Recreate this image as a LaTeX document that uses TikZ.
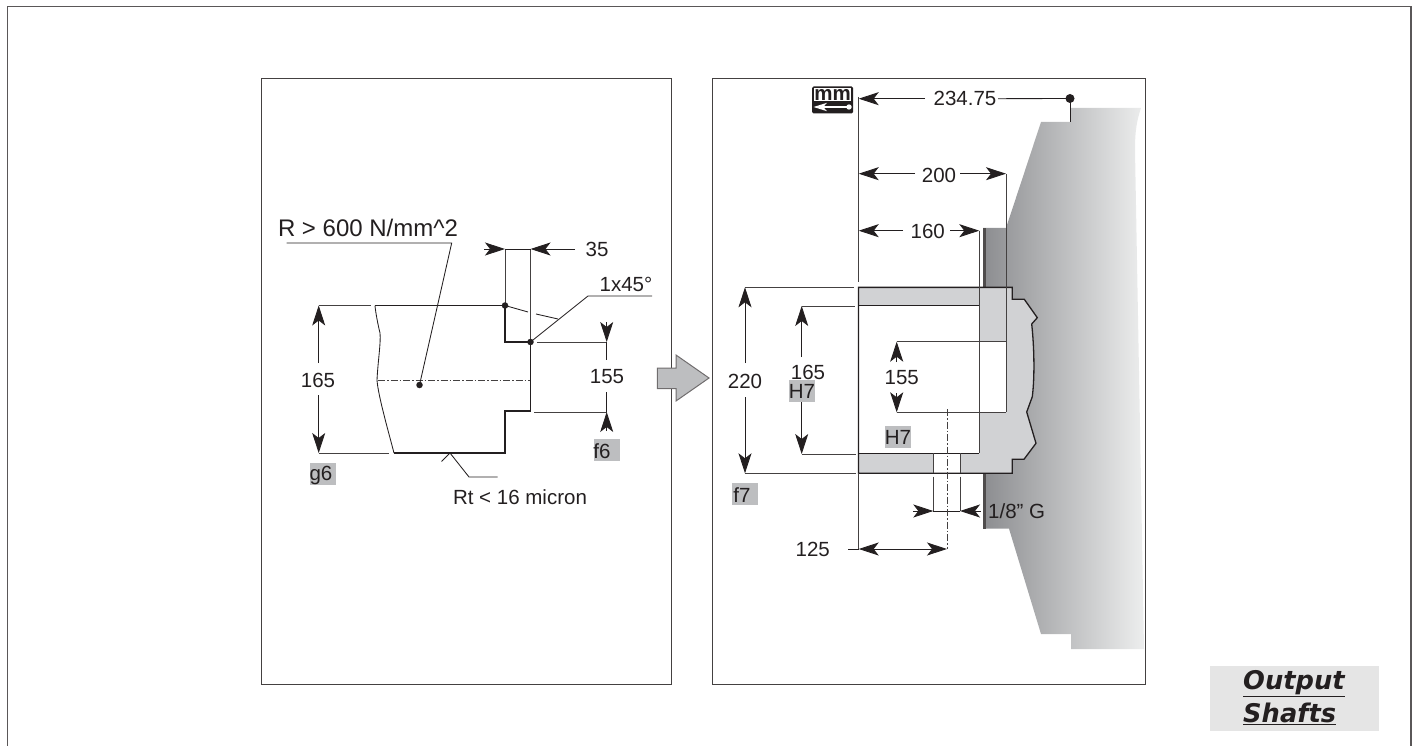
\documentclass[tikz,border=0pt]{standalone}
\usepackage{fontspec}
\setmainfont{Liberation Sans}
\newfontfamily\titlefont{DejaVu Sans}
\usetikzlibrary{arrows.meta}
\definecolor{ink}{HTML}{231F20}
\definecolor{tag}{HTML}{BDBEC0}
\definecolor{section}{HTML}{D1D2D4}
\definecolor{bodyl}{HTML}{8C8D90}
\definecolor{bodyr}{HTML}{EDEEEE}
\tikzset{
  frameline/.style={draw=ink!85,line width=0.85pt},
  thin line/.style={draw=ink,line width=0.85pt},
  dimline/.style={draw=ink,line width=0.85pt},
  extline/.style={draw=ink!85,line width=1pt},
  profile/.style={draw=ink,line width=1.3pt},
  dimtip/.style={-{Stealth[length=20pt,width=13pt,inset=5pt]}},
  lab/.style={inner sep=0pt,text=ink,font=\fontsize{20.5}{24}\selectfont},
  bigl/.style={inner sep=0pt,text=ink,font=\fontsize{24}{28}\selectfont},
  dotmark/.style={circle,fill=ink,inner sep=0pt,minimum size=6.5pt},
  bigdot/.style={circle,fill=ink,inner sep=0pt,minimum size=9pt},
  centerline/.style={draw=ink!85,line width=0.7pt,dash pattern=on 7pt off 2pt on 1.5pt off 2pt},
  titletext/.style={inner sep=0pt,anchor=base west,text=ink,font=\titlefont\bfseries\itshape\fontsize{25.7}{30}\selectfont},
}
\begin{document}
\begin{tikzpicture}[x=1pt,y=-1pt]
\useasboundingbox (0,0) rectangle (1417,746);
% outer frame
\draw[draw=ink!75,line width=1.3pt] (7.5,746) -- (7.5,6.5) -- (1411,6.5) -- (1411,746);
% panels
\draw[frameline] (261,78) rectangle (671,684);
\draw[frameline] (712,78) rectangle (1145,684);

% ---------- left drawing
\fill[tag] (310,463) rectangle (336,485);
\fill[tag] (594,439) rectangle (620,461);
\draw[extline] (505,249) -- (505,305.5);
\draw[extline] (530.5,249) -- (530.5,342);
\draw[profile] (375,305.6) -- (505,305.6) -- (505,342) -- (530.5,342) -- (530.5,411) -- (505,411) -- (505,453) -- (394,453);
\draw[thin line] (375,305.6) .. controls (375.5,312) and (378,325) .. (380,333) .. controls (381,343) and (378,360) .. (377,380) .. controls (378,395) and (388,430) .. (394,453);
\draw[centerline] (378,380) -- (530,380);
\node[dotmark] (dota) at (505,305.5) {};
\node[dotmark] (dotb) at (530.5,342) {};
\node[dotmark] (dotc) at (419.5,385) {};
\coordinate (rs) at (286.5,243);
\coordinate (rk) at (451.7,243);
\draw[thin line] (rs) -- (rk) -- (dotc.center);
\node[bigl] (rlabel) at (368,227.5) {R > 600 N/mm\textasciicircum 2};
% 35
\coordinate (a35l) at (484,249); \coordinate (a35lt) at (505,249);
\coordinate (a35r) at (575,249); \coordinate (a35rt) at (530.5,249);
\draw[dimline,dimtip] (a35l) -- (a35lt);
\draw[dimline,dimtip] (a35r) -- (a35rt);
\draw[dimline] (a35lt) -- (a35rt);
\node[lab] (l35) at (597,249) {35};
% chamfer
\coordinate (c1) at (588,296); \coordinate (c2) at (652,296);
\draw[thin line] (dotb.center) -- (c1) -- (c2);
\node[lab] (chamfer) at (626,284) {1x45°};
\coordinate (c3) at (528,312); \coordinate (c4) at (536,314); \coordinate (c5) at (558,319);
\draw[thin line] (dota.center) -- (c3) (c4) -- (c5);
% 165
\draw[extline] (318.7,305.5) -- (371,305.5);
\draw[extline] (318.7,453) -- (389,453);
\coordinate (u1) at (318.7,363); \coordinate (u2) at (318.7,305.5);
\coordinate (d1) at (318.7,395); \coordinate (d2) at (318.7,453);
\draw[dimline,dimtip] (u1) -- (u2);
\draw[dimline,dimtip] (d1) -- (d2);
\node[lab] (l165a) at (318,380) {165};
\node[lab] (g6) at (321,475) {g6};
% 155
\draw[extline] (537,342) -- (606.7,342);
\draw[extline] (534,412) -- (606.7,412);
\coordinate (p1) at (606.7,322); \coordinate (p2) at (606.7,342);
\coordinate (q1) at (606.7,431); \coordinate (q2) at (606.7,412);
\draw[dimline,dimtip] (p1) -- (p2);
\draw[dimline] (p2) -- (606.7,360);
\draw[dimline,dimtip] (q1) -- (q2);
\draw[dimline] (q2) -- (606.7,392);
\node[lab] (l155a) at (607,377) {155};
\node[lab] (f6) at (602,451) {f6};
% roughness
\coordinate (t1) at (441.5,461.5); \coordinate (t2) at (450,453);
\coordinate (t3) at (469,477); \coordinate (t4) at (497.5,477);
\draw[thin line] (t1) -- (t2) -- (t3) -- (t4);
\node[lab] (rt) at (520,497) {Rt < 16 micron};

% block arrow
\draw[fill=tag,draw=ink!65,line width=1pt] (657.3,368) -- (676,368) -- (676,355) -- (709,378) -- (676,401) -- (676,388.5) -- (657.3,388.5) -- cycle;

% ---------- right drawing
% body
\path[left color=bodyl,right color=bodyr] (983,228) -- (1006,228) -- (1041,122) -- (1070,122) -- (1070,108) -- (1141,108) .. controls (1137,120) and (1135,130) .. (1135,150) -- (1144,649) -- (1071,649) -- (1071,634) -- (1041,634) -- (1009,528.7) -- (983,528.7) -- cycle;
\fill[ink!80] (983,228) rectangle (985.5,528.7);
% section
\path[fill=section] (858.5,287.4) -- (1012.3,287.4) -- (1012.3,299.3) -- (1024.3,299.3) -- (1037.3,317.7) -- (1031.7,324) .. controls (1034,345) and (1035,375) .. (1032.3,396.7) -- (1026.7,412) -- (1036,443.3) -- (1024,459.3) -- (1012.3,459.3) -- (1012.3,473.3) -- (858.5,473.3) -- cycle;
\fill[white] (858.5,305.7) rectangle (979.3,453.3);
\fill[white] (979.3,341.7) rectangle (1006,412.3);
\fill[white] (933.3,453.3) rectangle (960,473.3);
% outline
\draw[profile] (858.5,473.3) -- (858.5,287.4) -- (1012.3,287.4) -- (1012.3,299.3) -- (1024.3,299.3) -- (1037.3,317.7) -- (1031.7,324) .. controls (1034,345) and (1035,375) .. (1032.3,396.7) -- (1026.7,412) -- (1036,443.3) -- (1024,459.3) -- (1012.3,459.3) -- (1012.3,473.3) -- cycle;
\draw[thin line] (858.5,305.7) -- (979.3,305.7) (858.5,453.3) -- (979.3,453.3);
\draw[extline] (979.3,230.7) -- (979.3,453.3);
\draw[extline] (1006,174) -- (1006,412.3);
\draw[extline] (896.7,341.7) -- (1006,341.7);
\draw[extline] (896.7,412.3) -- (1006,412.3);
\draw[extline] (933.3,453.3) -- (933.3,473.3) (960,453.3) -- (960,473.3);
\draw[extline] (858.7,97) -- (858.7,282);
\draw[extline] (858.7,473.3) -- (858.7,549);
% tags
\fill[tag] (789,380) rectangle (815,402);
\fill[tag] (885,425.7) rectangle (911,447.7);
\fill[tag] (732.3,482.7) rectangle (757.7,504.7);
% mm icon
\node[fill=ink,rounded corners=1.5pt,minimum width=41pt,minimum height=27pt,inner sep=0pt] (mm) at (832.5,100) {};
\fill[white] (814,88.5) rectangle (851,101);
\node[inner sep=0pt,anchor=base,text=ink,font=\bfseries\fontsize{20.5}{20}\selectfont] (mmt) at (832.5,101) {mm};
\fill[white] (813.5,107) -- (827,102.8) -- (824,106.1) -- (847,106.1) -- (847,107.9) -- (824,107.9) -- (827,111.2) -- cycle;
\fill[white] (849,107) circle (2.7pt);
% 234.75
\node[bigdot] (dotd) at (1070,98.5) {};
\coordinate (e1) at (1070,122);
\draw[thin line] (dotd.center) -- (e1);
\coordinate (f1) at (925,98.7); \coordinate (f2) at (858.7,98.7); \coordinate (f3) at (998,98.7);
\draw[dimline,dimtip] (f1) -- (f2);
\draw[dimline] (f3) -- (dotd.center);
\node[lab] (l234) at (965,98.7) {234.75};
% 200
\coordinate (g1) at (915,173.7); \coordinate (g2) at (858.7,173.7);
\coordinate (g3) at (960,173.7); \coordinate (g4) at (1006,173.7);
\draw[dimline,dimtip] (g1) -- (g2);
\draw[dimline,dimtip] (g3) -- (g4);
\node[lab] (l200) at (939,175) {200};
% 160
\coordinate (h1) at (903,230.7); \coordinate (h2) at (858.7,230.7);
\coordinate (h3) at (950,230.7); \coordinate (h4) at (979.3,230.7);
\draw[dimline,dimtip] (h1) -- (h2);
\draw[dimline,dimtip] (h3) -- (h4);
\node[lab] (l160) at (927.7,231) {160};
% 220
\draw[extline] (745,287.3) -- (854,287.3);
\draw[extline] (745,473.3) -- (856,473.3);
\coordinate (i1) at (745,363); \coordinate (i2) at (745,287.3);
\coordinate (i3) at (745,397); \coordinate (i4) at (745,473.3);
\draw[dimline,dimtip] (i1) -- (i2);
\draw[dimline,dimtip] (i3) -- (i4);
\node[lab] (l220) at (745,381) {220};
\node[lab] (f7) at (742,495) {f7};
% 165
\draw[extline] (801.7,306) -- (855,306);
\draw[extline] (801.7,454) -- (856,454);
\coordinate (j1) at (801.7,357); \coordinate (j2) at (801.7,306);
\coordinate (j3) at (801.7,402); \coordinate (j4) at (801.7,454);
\draw[dimline,dimtip] (j1) -- (j2);
\draw[dimline,dimtip] (j3) -- (j4);
\node[lab] (l165b) at (808,372.7) {165};
\node[lab] (h7a) at (802,391.5) {H7};
% 155
\coordinate (k1) at (896.7,362); \coordinate (k2) at (896.7,341.7);
\coordinate (k3) at (896.7,393); \coordinate (k4) at (896.7,412.3);
\draw[dimline,dimtip] (k1) -- (k2);
\draw[dimline,dimtip] (k3) -- (k4);
\node[lab] (l155b) at (901.7,378) {155};
\node[lab] (h7b) at (898,437) {H7};
% hole
\draw[extline] (933.3,476.7) -- (933.3,511);
\draw[extline] (960,476.7) -- (960,511);
\coordinate (m1) at (913,511); \coordinate (m2) at (933.3,511);
\coordinate (m3) at (980.7,511); \coordinate (m4) at (960,511);
\draw[dimline,dimtip] (m1) -- (m2);
\draw[dimline,dimtip] (m3) -- (m4);
\draw[dimline] (m2) -- (m4);
\node[lab,anchor=west] (g18) at (988,511) {1/8” G};
% centre line
\draw[centerline] (947,409) -- (947,549);
% 125
\coordinate (n0) at (848,549); \coordinate (n1) at (858.7,549); \coordinate (n2) at (947,549);
\draw[dimline] (n0) -- (n1);
\draw[dimline,{Stealth[length=20pt,width=13pt,inset=5pt]}-{Stealth[length=20pt,width=13pt,inset=5pt]}] (n1) -- (n2);
\node[lab] (l125) at (812.7,549) {125};
% title
\node[fill=black!10,minimum width=169.5pt,minimum height=65pt,inner sep=0pt] (tbox) at (1294.3,698.2) {};
\node[titletext] (t1n) at (1243,689) {\underline{Output}};
\node[titletext] (t2n) at (1243,722) {\underline{Shafts}};
\end{tikzpicture}
\end{document}
